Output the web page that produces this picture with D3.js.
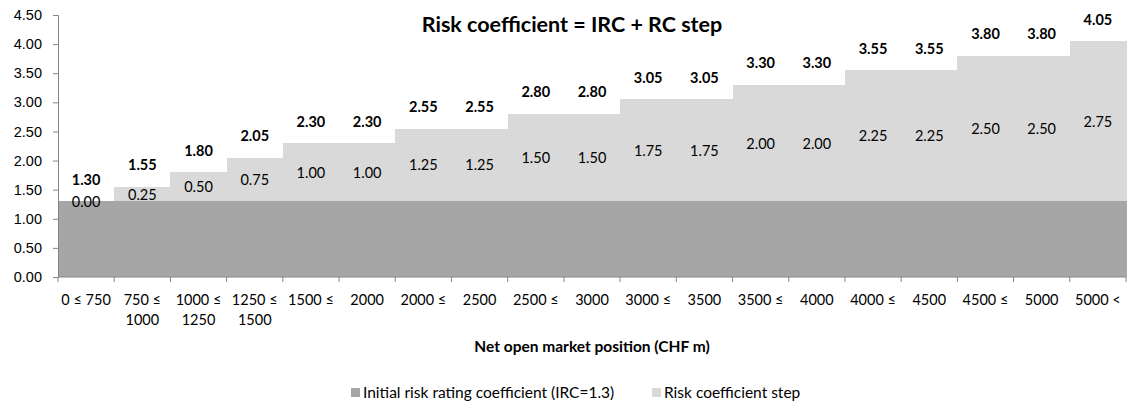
<!DOCTYPE html>
<html>
<head>
<meta charset="utf-8">
<script src="https://cdn.jsdelivr.net/npm/d3@7"></script>
<style>
  body { margin: 0; background: #fff; }
  svg { display: block; font-family: Lato, "Open Sans", sans-serif; }
</style>
</head>
<body>
<div id="chart"></div>
<script>
// tick labels, one entry per band (two lines where the label wraps)
const categories = [
  ['0 ≤ 750'], ['750 ≤', '1000'], ['1000 ≤', '1250'], ['1250 ≤', '1500'],
  ['1500 ≤'], ['2000'], ['2000 ≤'], ['2500'], ['2500 ≤'], ['3000'],
  ['3000 ≤'], ['3500'], ['3500 ≤'], ['4000'], ['4000 ≤'], ['4500'],
  ['4500 ≤'], ['5000'], ['5000 <']
];
const irc = [1.3, 1.3, 1.3, 1.3, 1.3, 1.3, 1.3, 1.3, 1.3, 1.3,
  1.3, 1.3, 1.3, 1.3, 1.3, 1.3, 1.3, 1.3, 1.3];
const step = [0, 0.25, 0.5, 0.75, 1, 1, 1.25, 1.25, 1.5, 1.5,
  1.75, 1.75, 2, 2, 2.25, 2.25, 2.5, 2.5, 2.75];
const yTicks = [0, 0.5, 1, 1.5, 2, 2.5, 3, 3.5, 4, 4.5];
const seriesNames = ['Initial risk rating coefficient (IRC=1.3)', 'Risk coefficient step'];
const colors = ['#a6a6a6', '#d9d9d9'];

const width = 1139;
const height = 403;
const margin = { top: 15, right: 13, bottom: 126, left: 58 };

const svg = d3.select('#chart').append('svg')
  .attr('width', width)
  .attr('height', height);

const rows = categories.map((c, i) => ({ i, irc: irc[i], step: step[i] }));
const stacked = d3.stack().keys(['irc', 'step'])(rows);

const x = d3.scaleBand()
  .domain(d3.range(categories.length))
  .range([margin.left, width - margin.right])
  .padding(0);

const y = d3.scaleLinear()
  .domain([0, 4.5])
  .range([height - margin.bottom, margin.top]);

// bars
svg.selectAll('.layer')
  .data(stacked)
  .enter()
  .append('g')
  .attr('class', 'layer')
  .attr('fill', (d, k) => colors[k])
  .attr('shape-rendering', 'crispEdges')
  .selectAll('rect')
  .data(d => d)
  .enter()
  .append('rect')
  .attr('x', d => x(d.data.i))
  .attr('y', d => y(d[1]))
  .attr('width', x.bandwidth() + 1)
  .attr('height', d => y(d[0]) - y(d[1]));

// y axis
const yAxis = svg.append('g')
  .attr('transform', `translate(${margin.left},0)`)
  .call(d3.axisLeft(y).tickValues(yTicks).tickFormat(d3.format('.2f')).tickSize(5));
yAxis.select('.domain').attr('stroke', '#868686');
yAxis.selectAll('.tick line').attr('stroke', '#868686');
yAxis.selectAll('.tick text')
  .attr('x', -16)
  .attr('font-size', 14.5)
  .attr('fill', '#000');

// x axis: line and ticks at band edges
const x0 = y(0);
svg.append('line')
  .attr('x1', margin.left).attr('x2', width - margin.right)
  .attr('y1', x0).attr('y2', x0)
  .attr('stroke', '#868686');

svg.selectAll('.xtick')
  .data(d3.range(categories.length + 1))
  .enter()
  .append('line')
  .attr('class', 'xtick')
  .attr('x1', i => margin.left + i * x.step())
  .attr('x2', i => margin.left + i * x.step())
  .attr('y1', x0)
  .attr('y2', x0 + 5)
  .attr('stroke', '#868686');

const xLabels = svg.selectAll('.xlabel')
  .data(categories)
  .enter()
  .append('text')
  .attr('class', 'xlabel')
  .attr('text-anchor', 'middle')
  .attr('font-size', 14.5)
  .attr('fill', '#000');

xLabels.selectAll('tspan')
  .data((d, i) => d.map(t => ({ t, i })))
  .enter()
  .append('tspan')
  .attr('x', d => x(d.i) + x.bandwidth() / 2)
  .attr('y', (d, j) => x0 + 28 + j * 20)
  .text(d => d.t);

// step values, centred inside the light segment
const stepLayer = stacked[1];
svg.selectAll('.steplabel')
  .data(stepLayer)
  .enter()
  .append('text')
  .attr('class', 'steplabel')
  .attr('x', d => x(d.data.i) + x.bandwidth() / 2)
  .attr('y', d => (y(d[0]) + y(d[1])) / 2 + 5.5)
  .attr('text-anchor', 'middle')
  .attr('font-size', 14.5)
  .attr('fill', '#000')
  .text(d => d3.format('.2f')(d.data.step));

// totals above each bar
svg.selectAll('.totlabel')
  .data(stepLayer)
  .enter()
  .append('text')
  .attr('class', 'totlabel')
  .attr('x', d => x(d.data.i) + x.bandwidth() / 2)
  .attr('y', d => y(d[1]) - 16.5)
  .attr('text-anchor', 'middle')
  .attr('font-size', 14.5)
  .attr('font-weight', 'bold')
  .attr('fill', '#000')
  .text(d => d3.format('.2f')(d[1]));

// title
svg.append('text')
  .attr('x', 572)
  .attr('y', 32)
  .attr('text-anchor', 'middle')
  .attr('font-size', 21.5)
  .attr('font-weight', 'bold')
  .text('Risk coefficient = IRC + RC step');

// x axis title
svg.append('text')
  .attr('x', 592)
  .attr('y', 352)
  .attr('text-anchor', 'middle')
  .attr('font-size', 15.5)
  .attr('font-weight', 'bold')
  .text('Net open market position (CHF m)');

// legend
const legend = svg.append('g')
  .selectAll('g')
  .data(seriesNames)
  .enter()
  .append('g')
  .attr('transform', (d, k) => `translate(${[351, 652][k]},393)`);

legend.append('rect')
  .attr('x', 0).attr('y', -5)
  .attr('width', 9).attr('height', 9)
  .attr('fill', (d, k) => colors[k]);

legend.append('text')
  .attr('x', 12)
  .attr('y', 5)
  .attr('font-size', 15.5)
  .text(d => d);
</script>
</body>
</html>
